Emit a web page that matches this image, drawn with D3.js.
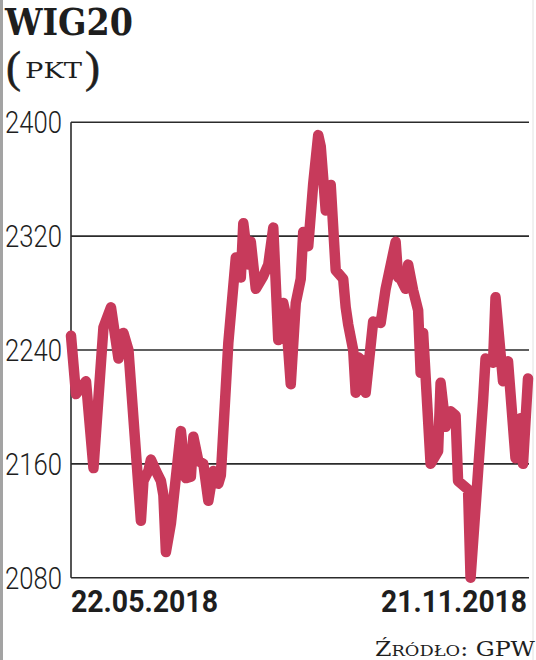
<!DOCTYPE html>
<html>
<head>
<meta charset="utf-8">
<script src="https://cdn.jsdelivr.net/npm/d3@7"></script>
<style>
  html, body { margin: 0; padding: 0; background: #fff; }
</style>
</head>
<body>
<div id="chart"></div>
<script>
// WIG20 index, 22.05.2018 - 21.11.2018
const startDate = "2018-05-22";
const endDate = "2018-11-21";

// days since start date for each traced session
const dayOffsets = [
  0, 2, 6, 9, 13, 16, 19, 21, 23, 28,
  29, 31, 32, 34, 36, 37, 38, 40, 44, 46,
  48, 49, 51, 53, 55, 57, 59, 60, 63, 66,
  68, 69, 71, 72, 74, 76, 77, 79, 81, 83,
  85, 86, 88, 90, 92, 93, 95, 97, 99, 100,
  102, 104, 106, 109, 110, 111, 113, 114, 115, 117,
  118, 121, 124, 126, 130, 131, 132, 134, 135, 137,
  139, 140, 141, 144, 147, 148, 150, 152, 154, 155,
  159, 160, 165, 166, 169, 170, 173, 175, 178, 180,
  181, 183
];

// index points
const values = [
  2250, 2209, 2218, 2157, 2256, 2270, 2234, 2252, 2240, 2120,
  2148, 2155, 2163, 2155, 2148, 2138, 2098, 2118, 2183, 2150,
  2151, 2179, 2162, 2160, 2134, 2155, 2146, 2152, 2245, 2305,
  2291, 2329, 2300, 2316, 2283, 2289, 2292, 2300, 2326, 2247,
  2273, 2265, 2216, 2273, 2290, 2323, 2313, 2357, 2391, 2383,
  2338, 2356, 2296, 2290, 2270, 2258, 2240, 2210, 2235, 2232,
  2210, 2260, 2259, 2283, 2316, 2291, 2290, 2283, 2300, 2282,
  2268, 2224, 2252, 2160, 2169, 2217, 2186, 2197, 2194, 2148,
  2142, 2080, 2204, 2234, 2231, 2277, 2218, 2232, 2164, 2192,
  2160, 2220
];

const yTicks = [2080, 2160, 2240, 2320, 2400];
const xTickLabels = ["22.05.2018", "21.11.2018"];

const width = 536;
const height = 660;

const svg = d3.select("#chart")
  .append("svg")
  .attr("width", width)
  .attr("height", height);

const parseDate = d3.timeParse("%Y-%m-%d");
const start = parseDate(startDate);
const end = parseDate(endDate);

const data = values.map((v, i) => ({
  date: d3.timeDay.offset(start, dayOffsets[i]),
  value: v
}));

const x = d3.scaleTime()
  .domain([start, end])
  .range([71, 528]);

const y = d3.scaleLinear()
  .domain([2080, 2400])
  .range([577.7, 122.3]);

// squeeze a text horizontally to a given width (condensed look)
function fitWidth(sel, tx, ty, w) {
  const natural = sel.node().getComputedTextLength();
  sel.attr("transform", `translate(${tx},${ty}) scale(${w / natural},1)`);
}

// scan edges
svg.append("rect")
  .attr("x", 0).attr("y", 0)
  .attr("width", 3).attr("height", height)
  .attr("fill", "#a3a3a3");

svg.append("line")
  .attr("x1", 533).attr("x2", 533)
  .attr("y1", 0).attr("y2", height)
  .attr("stroke", "#e2e2e2")
  .attr("stroke-width", 1);

// title
svg.append("text")
  .attr("x", 5)
  .attr("y", 35)
  .attr("font-family", "DejaVu Serif")
  .attr("font-weight", "bold")
  .attr("font-size", 38)
  .attr("textLength", 128)
  .attr("lengthAdjust", "spacingAndGlyphs")
  .attr("fill", "#1e1e1e")
  .text("WIG20");

// unit
svg.append("text")
  .attr("x", 6)
  .attr("y", 82)
  .attr("font-family", "Liberation Serif")
  .attr("font-size", 45)
  .attr("fill", "#1e1e1e")
  .attr("stroke", "#1e1e1e")
  .attr("stroke-width", 0.6)
  .text("(");

svg.append("text")
  .attr("x", 100)
  .attr("y", 82)
  .attr("text-anchor", "end")
  .attr("font-family", "Liberation Serif")
  .attr("font-size", 45)
  .attr("fill", "#1e1e1e")
  .attr("stroke", "#1e1e1e")
  .attr("stroke-width", 0.6)
  .text(")");

svg.append("text")
  .attr("x", 25)
  .attr("y", 78)
  .attr("font-family", "DejaVu Serif")
  .attr("font-size", 23)
  .attr("textLength", 57)
  .attr("lengthAdjust", "spacingAndGlyphs")
  .attr("fill", "#1e1e1e")
  .text("PKT");

// grid lines
svg.append("g")
  .selectAll("line")
  .data(yTicks)
  .join("line")
  .attr("x1", x.range()[0])
  .attr("x2", 529)
  .attr("y1", d => y(d))
  .attr("y2", d => y(d))
  .attr("stroke", "#2b2b2b")
  .attr("stroke-width", 1.6);

// left axis line
svg.append("line")
  .attr("x1", x.range()[0])
  .attr("x2", x.range()[0])
  .attr("y1", y(2400))
  .attr("y2", y(2080))
  .attr("stroke", "#2b2b2b")
  .attr("stroke-width", 1.6);

// y tick labels
svg.append("g")
  .selectAll("text")
  .data(yTicks)
  .join("text")
  .attr("x", 62)
  .attr("y", d => y(d) + 11)
  .attr("text-anchor", "end")
  .attr("font-family", "Roboto")
  .attr("font-weight", 300)
  .attr("font-size", 32)
  .attr("textLength", 57)
  .attr("lengthAdjust", "spacingAndGlyphs")
  .attr("fill", "#1e1e1e")
  .text(d => d);

// line
const line = d3.line()
  .x(d => x(d.date))
  .y(d => y(d.value));

svg.append("path")
  .datum(data)
  .attr("d", line)
  .attr("fill", "none")
  .attr("stroke", "#c73a5b")
  .attr("stroke-width", 10.5)
  .attr("stroke-linejoin", "round")
  .attr("stroke-linecap", "round");

// date labels
const firstDate = svg.append("text")
  .attr("font-family", "Roboto")
  .attr("font-weight", "bold")
  .attr("font-size", 31)
  .attr("fill", "#1e1e1e")
  .text(xTickLabels[0]);
fitWidth(firstDate, 71, 612, 147);

const lastDate = svg.append("text")
  .attr("text-anchor", "end")
  .attr("font-family", "Roboto")
  .attr("font-weight", "bold")
  .attr("font-size", 31)
  .attr("fill", "#1e1e1e")
  .text(xTickLabels[1]);
fitWidth(lastDate, 527, 612, 146);

// source
const src = svg.append("text")
  .attr("x", 375)
  .attr("y", 656)
  .attr("font-family", "DejaVu Serif")
  .attr("textLength", 160)
  .attr("lengthAdjust", "spacingAndGlyphs")
  .attr("fill", "#1e1e1e");
src.append("tspan").attr("font-size", 20).text("Ź");
src.append("tspan").attr("font-size", 15).text("RÓDŁO");
src.append("tspan").attr("font-size", 20).text(": GPW");
</script>
</body>
</html>
